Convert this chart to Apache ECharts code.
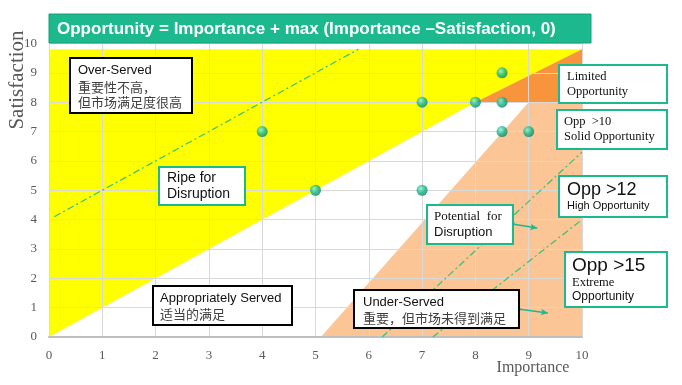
<!DOCTYPE html>
<html>
<head>
<meta charset="utf-8">
<script src="https://cdn.jsdelivr.net/npm/echarts@6/dist/echarts.min.js"></script>
<style>html,body{margin:0;padding:0;background:#fff}#c{width:682px;height:385px}</style>
</head>
<body>
<div id="c"></div>
<script>
// ---- data ----
const xTicks = [0,1,2,3,4,5,6,7,8,9,10];
const yTicks = [0,1,2,3,4,5,6,7,8,9,10];
const points = [[4,7],[5,5],[7,8],[7,5],[8,8],[8.5,9],[8.5,8],[8.5,7],[9,7]];
const yellowZone = [[0,0],[0,9.8],[10,9.8],[8,8]];
const limitedZone = [[8,8],[10,9.8],[10,8]];
const underZone = [[5.1,0],[10,0],[10,8],[9,8]];
const guide1 = [[0.1,4.1],[5.8,9.8]];
const guide12 = [[6.25,0],[10,6.3]];
const guide15 = [[7.2,0],[10,4]];
const arrowPotential = [[8.69,3.85],[9.16,3.71]];
const arrowUnder = [[8.8,0.95],[9.36,0.82]];

const TEAL = '#1cb98f';
const SERIF = '"Liberation Serif","Times New Roman",serif';
const SANS = '"Liberation Sans",Arial,sans-serif';
const CJK = '"Noto Sans CJK SC",serif';

function zone(pts, color){
  return {type:'custom', z:0, silent:true, data:[0],
    renderItem:(p,api)=>({type:'polygon', shape:{points:pts.map(q=>api.coord(q))}, style:{fill:color}})};
}
function guide(pts){
  return {type:'line', z:3, data:pts, symbol:'none', silent:true,
    lineStyle:{color:'#33c27a', width:1.2, type:[7,3,2,3]}};
}
function box(x,y,w,h,border,lines){
  const els=[{type:'rect', z:100, shape:{x:x,y:y,width:w,height:h},
    style:{fill:'#fff', stroke:border, lineWidth:2}}];
  lines.forEach(l=>els.push({type:'text', z:101, x:l.x, y:l.y,
    style:{text:l.t, font:l.f, fill:l.c||'#111', textVerticalAlign:'middle'}}));
  return els;
}

const chart = echarts.init(document.getElementById('c'));
const graphics = [].concat(
  [{type:'rect', z:100, shape:{x:49,y:14,width:542,height:29}, style:{fill:TEAL, stroke:'#169e7a', lineWidth:1}},
   {type:'text', z:101, x:57, y:29, style:{text:'Opportunity = Importance + max (Importance \u2013Satisfaction, 0)', font:'bold 17px '+SANS, fill:'#fff', textVerticalAlign:'middle'}},
   {type:'text', z:101, x:17, y:80, rotation:Math.PI/2, style:{text:'Satisfaction', font:'21px '+SERIF, fill:'#595959', textAlign:'center', textVerticalAlign:'middle'}},
   {type:'text', z:101, x:533, y:368, style:{text:'Importance', font:'16px '+SERIF, fill:'#595959', textAlign:'center', textVerticalAlign:'middle'}}],
  box(70,58,122,55,'#000',[
    {x:78,y:70,t:'Over-Served',f:'13px '+SANS},
    {x:78,y:87,t:'重要性不高，',f:'13px '+CJK,c:'#404040'},
    {x:78,y:102,t:'但市场满足度很高',f:'13px '+CJK,c:'#404040'}]),
  box(159,167,86,38,TEAL,[
    {x:167,y:178,t:'Ripe for',f:'14px '+SANS},
    {x:167,y:194,t:'Disruption',f:'14px '+SANS}]),
  box(153,286,139,39,'#000',[
    {x:160,y:298,t:'Appropriately Served',f:'13px '+SANS},
    {x:160,y:314,t:'适当的满足',f:'13px '+CJK,c:'#404040'}]),
  box(559,65,108,38,TEAL,[
    {x:567,y:77,t:'Limited',f:'12.5px '+SERIF},
    {x:567,y:92,t:'Opportunity',f:'12.5px '+SERIF}]),
  box(557,110,110,39,TEAL,[
    {x:564,y:122,t:'Opp  >10',f:'12.5px '+SERIF},
    {x:564,y:137,t:'Solid Opportunity',f:'12.5px '+SERIF}]),
  box(559,176,108,41,TEAL,[
    {x:567,y:190,t:'Opp >12',f:'18px '+SANS},
    {x:567,y:206,t:'High Opportunity',f:'11px '+SANS}]),
  box(565,252,102,55,TEAL,[
    {x:572,y:266,t:'Opp >15',f:'19px '+SANS},
    {x:572,y:283,t:'Extreme',f:'12.5px '+SERIF},
    {x:572,y:297,t:'Opportunity',f:'12px '+SANS}]),
  box(427,205,86,39,TEAL,[
    {x:434,y:217,t:'Potential  for',f:'13px '+SERIF},
    {x:434,y:232,t:'Disruption',f:'13px '+SANS}]),
  box(354,290,165,38,'#000',[
    {x:363,y:302,t:'Under-Served',f:'13px '+SANS},
    {x:363,y:318,t:'重要，但市场未得到满足',f:'13px '+CJK,c:'#404040'}])
);

function arrow(pts){
  return {type:'line', z:120, zlevel:1, data:[], markLine:{silent:true, symbol:['circle','arrow'], symbolSize:[5,7],
    label:{show:false}, lineStyle:{color:TEAL, width:1.5, type:'solid'},
    data:[[{coord:pts[0]},{coord:pts[1]}]]}};
}

chart.setOption({
  animation:false,
  grid:{left:49, right:100, top:43.5, bottom:48},
  xAxis:{type:'value', min:xTicks[0], max:xTicks[xTicks.length-1], interval:1, z:1,
    axisLine:{show:true, onZero:false, lineStyle:{color:'#bfbfbf', width:2}},
    axisTick:{show:false},
    axisLabel:{margin:12, color:'#595959', fontFamily:SERIF, fontSize:13},
    splitLine:{lineStyle:{color:'#d9d9d9', width:1}}},
  yAxis:{type:'value', min:yTicks[0], max:yTicks[yTicks.length-1], interval:1, z:1,
    axisLine:{show:false}, axisTick:{show:false},
    axisLabel:{margin:12, color:'#595959', fontFamily:SERIF, fontSize:13},
    splitLine:{lineStyle:{color:'#d9d9d9', width:1}}},
  series:[
    zone(yellowZone,'#ffff00'),
    zone(limitedZone,'#f7943c'),
    zone(underZone,'#fbc595'),
    guide(guide1), guide(guide12), guide(guide15),
    {type:'scatter', z:5, data:points, symbolSize:11,
      itemStyle:{color:{type:'radial',x:0.38,y:0.35,r:0.7,colorStops:[{offset:0,color:'#8ff0d4'},{offset:0.5,color:'#18b88c'},{offset:1,color:'#0b7f60'}]}}},
    arrow(arrowPotential), arrow(arrowUnder)
  ],
  graphic:graphics
});
</script>
</body>
</html>
